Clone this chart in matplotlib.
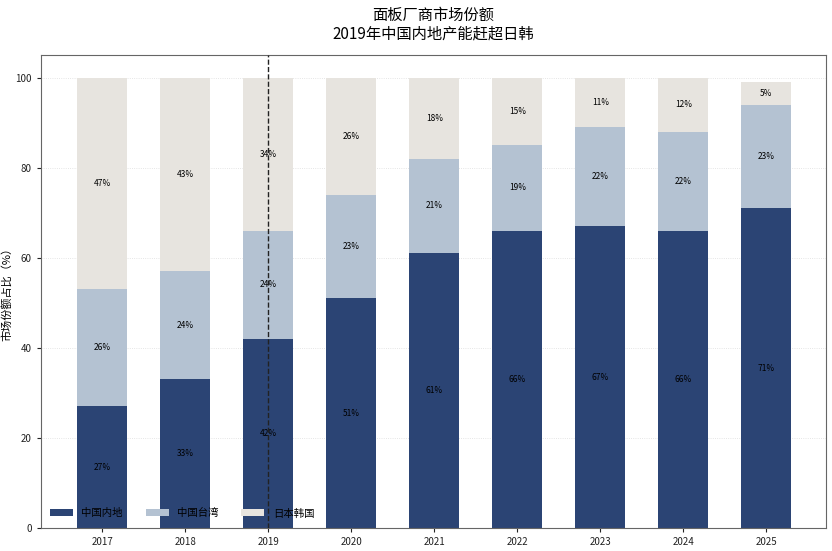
import numpy as np
import matplotlib
matplotlib.use("Agg")
import matplotlib.pyplot as plt

plt.rcParams['font.family'] = ['Noto Sans CJK SC', 'DejaVu Sans']

# data
years = ["2017", "2018", "2019", "2020", "2021", "2022", "2023", "2024", "2025"]
mainland = [27, 33, 42, 51, 61, 66, 67, 66, 71]
taiwan = [26, 24, 24, 23, 21, 19, 22, 22, 23]
japan_korea = [47, 43, 34, 26, 18, 15, 11, 12, 5]
series_names = ["中国内地", "中国台湾", "日本韩国"]

COLORS = ["#2b4474", "#b4c2d2", "#e7e4df"]

fig = plt.figure(figsize=(8.32, 5.51), dpi=100, facecolor="white")
ax = fig.add_axes([0.049, 0.042, 0.944, 0.858])

x = np.arange(len(years))
bottom = np.zeros(len(years))
for vals, name, col in zip([mainland, taiwan, japan_korea], series_names, COLORS):
    vals = np.array(vals, dtype=float)
    ax.bar(x, vals, 0.6, bottom=bottom, color=col, label=name, zorder=2)
    for xi, b, v in zip(x, bottom, vals):
        ax.text(xi, b + v / 2, f"{int(v)}%", ha="center", va="center",
                fontsize=6, color="black", zorder=4)
    bottom += vals

ax.axvline(2, color="#222222", ls="--", lw=1.0, zorder=5)

ax.set_xlim(-0.74, 8.72)
ax.set_ylim(0, 105)
ax.set_yticks([0, 20, 40, 60, 80, 100])
ax.set_xticks(x)
ax.set_xticklabels(years)
ax.tick_params(labelsize=7, length=3, colors="#222222")
ax.grid(axis="y", color="#dddddd", ls=":", lw=0.6, zorder=0)
for s in ax.spines.values():
    s.set_color("#666666")

ax.set_ylabel("市场份额占比（%）", fontsize=8, labelpad=2)
ax.set_title("面板厂商市场份额\n2019年中国内地产能赶超日韩", fontsize=11, pad=12,
             linespacing=1.1)

ax.legend(loc="lower left", ncol=3, frameon=False, fontsize=7.5,
          handlelength=2.2, handleheight=0.7, columnspacing=2.2,
          bbox_to_anchor=(0.0, 0.0))

fig.savefig("out.png", dpi=100, facecolor="white")
